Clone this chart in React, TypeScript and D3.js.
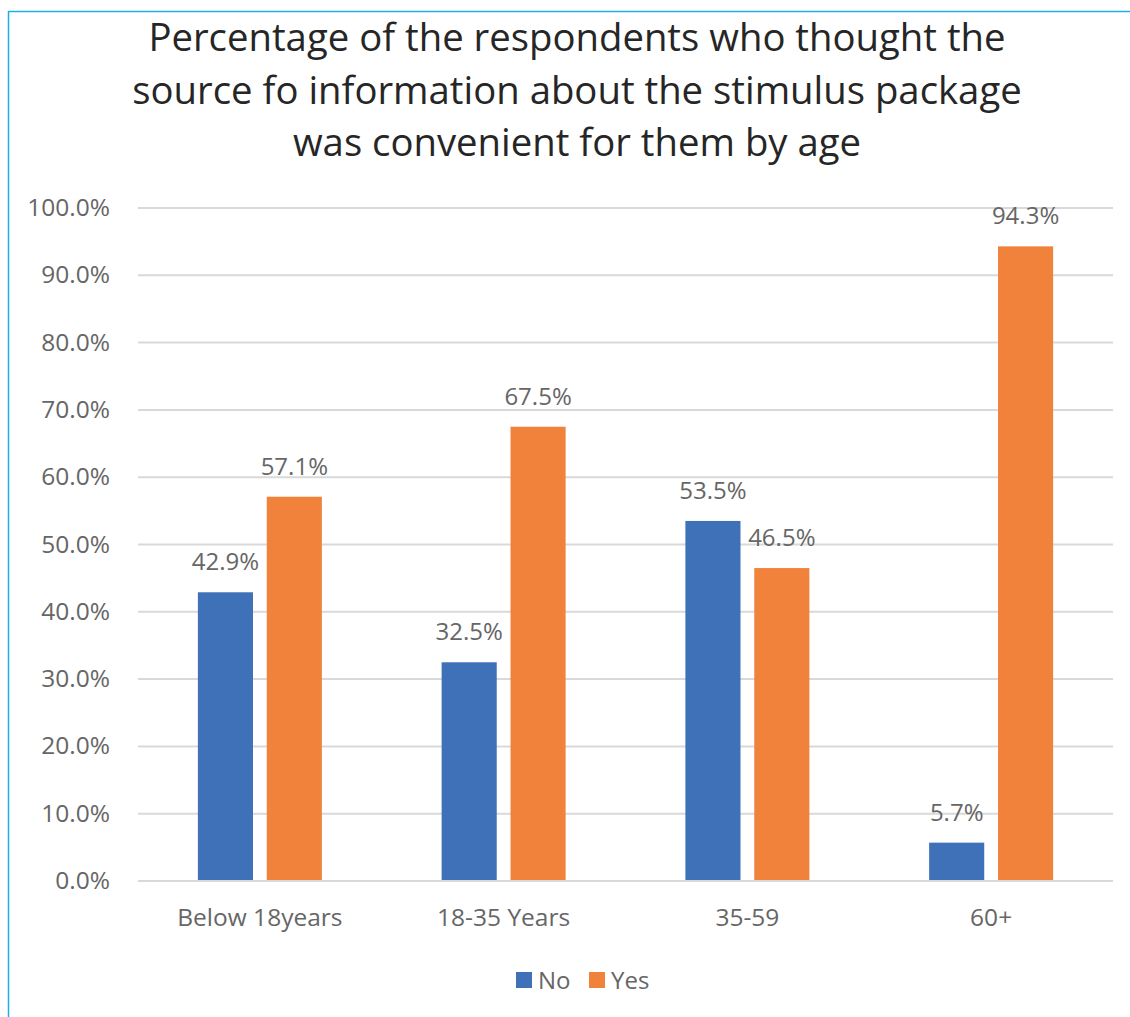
import React from "react";
import * as d3 from "d3";

const categories = ["Below 18years", "18-35 Years", "35-59", "60+"];
const seriesNames = ["No", "Yes"];
const noValues = [42.9, 32.5, 53.5, 5.7];
const yesValues = [57.1, 67.5, 46.5, 94.3];
const yTicks = [0, 10, 20, 30, 40, 50, 60, 70, 80, 90, 100];
const colors = ["#3F71B8", "#F1823C"];
const titleLines = [
  "Percentage of the respondents who thought the",
  "source fo information about the stimulus package",
  "was convenient for them by age",
];

export default function App() {
  const W = 1130, H = 1017;
  const left = 138, right = 1113, top = 208, bottom = 881;
  const x = d3.scaleBand<string>().domain(categories).range([left, right]);
  const inner = d3.scaleBand<string>().domain(seriesNames).range([0, 124]).paddingInner(0.2);
  const y = d3.scaleLinear().domain([0, 100]).range([bottom, top]);
  const series = [noValues, yesValues];
  const font = "'Open Sans', 'Liberation Sans', sans-serif";
  return (
    <svg width={W} height={H} style={{ position: "absolute", left: 0, top: 0 }} fontFamily={font}>
      <rect x={0} y={0} width={W} height={H} fill="#fff" />
      <line x1={8.5} y1={11} x2={8.5} y2={H} stroke="#1EAEE8" strokeWidth={1.5} />
      <line x1={8} y1={11.5} x2={W} y2={11.5} stroke="#1EAEE8" strokeWidth={1.5} />
      {titleLines.map((t, i) => (
        <text key={i} x={577} y={51 + i * 52.5} textAnchor="middle" fontSize={38.3} fill="#262626">{t}</text>
      ))}
      {yTicks.map((t) => (
        <g key={t}>
          <line x1={left} x2={right} y1={y(t)} y2={y(t)} stroke="#D9D9D9" strokeWidth={2} />
          <text x={110} y={y(t) + 8} textAnchor="end" fontSize={24.5} fill="#666">{t.toFixed(1)}%</text>
        </g>
      ))}
      {categories.map((c, ci) => (
        <g key={c}>
          {series.map((vals, si) => {
            const bx = x(c)! + x.bandwidth() / 2 - 62 + inner(seriesNames[si])!;
            return (
              <g key={si}>
                <rect x={bx} y={y(vals[ci])} width={inner.bandwidth()} height={bottom - y(vals[ci])} fill={colors[si]} />
                <text x={bx + inner.bandwidth() / 2} y={y(vals[ci]) - 22} textAnchor="middle" fontSize={24} fill="#666">{vals[ci].toFixed(1)}%</text>
              </g>
            );
          })}
          <text x={x(c)! + x.bandwidth() / 2} y={926} textAnchor="middle" fontSize={24.5} fill="#666">{c}</text>
        </g>
      ))}
      <line x1={left} x2={right} y1={bottom} y2={bottom} stroke="#D9D9D9" strokeWidth={2} />
      {seriesNames.map((s, i) => (
        <g key={s} transform={`translate(${516 + i * 73},${972})`}>
          <rect x={0} y={0} width={16} height={16} fill={colors[i]} />
          <text x={22} y={17} fontSize={24} fill="#666">{s}</text>
        </g>
      ))}
    </svg>
  );
}
